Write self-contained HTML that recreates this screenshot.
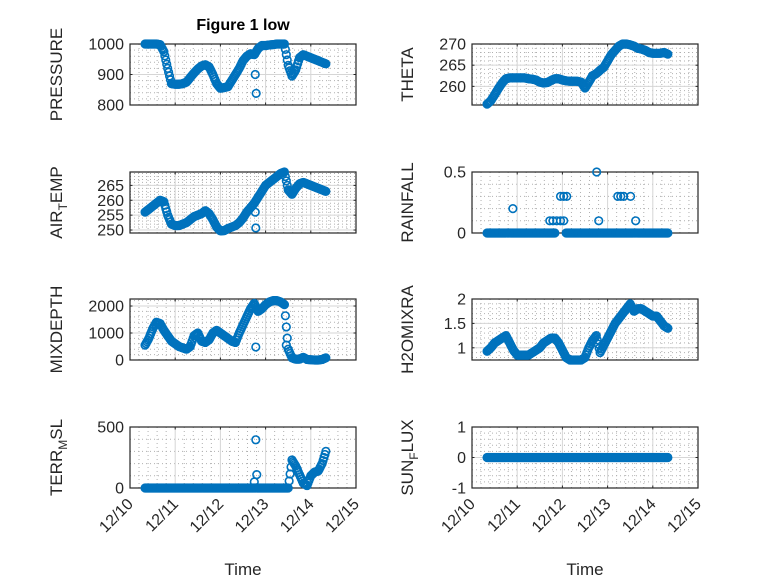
<!DOCTYPE html>
<html><head><meta charset="utf-8">
<style>
html,body{margin:0;padding:0;background:#fff;}
svg{display:block;font-family:"Liberation Sans",sans-serif;}
</style></head>
<body>
<svg id="fig" width="778" height="583" viewBox="0 0 778 583" xmlns="http://www.w3.org/2000/svg">
<rect width="778" height="583" fill="#fff"/>
<text x="243" y="30" text-anchor="middle" font-size="16" font-weight="bold" fill="#000">Figure 1 low</text>
</svg>
<script>
// time axis: hours since 12/10 00:00
const hours = [8,10,12,14,16,18,20,22,24,26,28,30,32,34,36,38,40,42,44,46,48,50,52,54,56,58,60,62,64,66,68,70,72,74,76,78,80,82,84,86,88,90,92,94,96,98,100,102,104];
const xTickLabels = ["12/10","12/11","12/12","12/13","12/14","12/15"];

const pressure = [1000,1000,1000,1000,998,975,920,870,868,868,870,875,890,905,918,928,932,925,900,870,855,857,860,880,900,920,945,960,968,965,985,995,995,997,998,1000,1000,1000,930,895,915,955,965,960,955,950,945,940,935];
const pressureExtraHours = [67,66.5];
const pressureExtra = [838,900];

const theta = [255.8,256.6,258,259.5,260.8,261.8,262,262,262,262,262,261.8,261.7,261.5,261,260.8,260.9,261.4,261.8,261.8,261.5,261.3,261.2,261.2,261.2,261,259.6,261,262.5,263,263.8,264.5,266,267.5,268.5,269.5,270,270,269.8,269.5,269,268.8,268.5,268,267.8,267.8,267.8,268,267.6];

const airTemp = [256,257,258,259,260,259.5,255,252,251.5,251.5,252,252.5,253.5,254.5,255,255.5,256.5,255.5,253.5,251,249.7,249.8,250.5,251,251.5,252.5,254,256,257.5,259,261,263,265,266,267,268,269,269.5,263.5,262,264,265.5,266,265.5,265,264.5,264,263.5,263];
const airTempExtraHours = [66.8,66.5];
const airTempExtra = [250.7,256];

const rainfall = [0,0,0,0,0,0,0,0,0,0,0,0,0,0,0,0,0,0,0,null,null,0,0,0,0,0,0,0,0,0,0,0,0,0,0,0,0,0,0,0,0,0,0,0,0,0,0,0,0];
const rainExtraHours = [21.7,41.3,43,45,47,48.7,47,48.7,50.3,66.2,67.3,77.4,79,80.5,84.2,86.9];
const rainExtra = [0.2,0.1,0.1,0.1,0.1,0.1,0.3,0.3,0.3,0.5,0.1,0.3,0.3,0.3,0.3,0.1];

const mixDepth = [550,800,1150,1400,1350,1100,900,700,600,500,450,400,500,900,1000,700,650,750,1000,1100,1000,900,800,700,650,1000,1300,1600,1900,2100,1800,1900,2050,2150,2200,2200,2150,2050,400,80,30,30,100,20,10,0,0,20,80];
const mixExtraHours = [66.8,83];
const mixExtra = [480,550];

const h2o = [0.93,1.0,1.1,1.15,1.2,1.25,1.1,0.95,0.85,0.85,0.85,0.85,0.9,0.95,1.0,1.1,1.15,1.2,1.2,1.1,0.95,0.8,0.75,0.75,0.75,0.75,0.8,1.0,1.15,1.25,0.9,1.05,1.2,1.35,1.5,1.6,1.7,1.8,1.9,1.75,1.8,1.8,1.75,1.7,1.65,1.65,1.55,1.45,1.4];

const terr = [0,0,0,0,0,0,0,0,0,0,0,0,0,0,0,0,0,0,0,0,0,0,0,0,0,0,0,0,0,0,0,0,0,0,0,0,0,0,0,230,180,110,40,20,100,130,140,200,300];
const terrExtraHours = [66.8,67.3,66];
const terrExtra = [395,110,50];

const sunFlux = [0,0,0,0,0,0,0,0,0,0,0,0,0,0,0,0,0,0,0,0,0,0,0,0,0,0,0,0,0,0,0,0,0,0,0,0,0,0,0,0,0,0,0,0,0,0,0,0,0];

const NS = "http://www.w3.org/2000/svg";
const svg = document.getElementById("fig");
function mk(tag, attrs, parent) {
  const e = document.createElementNS(NS, tag);
  for (const k in attrs) e.setAttribute(k, attrs[k]);
  (parent || svg).appendChild(e);
  return e;
}

const panels = [
  {name:"pressure", col:0, row:0, ylim:[800,1000], ticks:[800,900,1000], label:["PRESSURE"], data:pressure, exH:pressureExtraHours, ex:pressureExtra},
  {name:"theta", col:1, row:0, ylim:[255.6,270], ticks:[260,265,270], label:["THETA"], data:theta, exH:[], ex:[]},
  {name:"air-temp", col:0, row:1, ylim:[249,269.5], ticks:[250,255,260,265], label:["AIR","T","EMP"], data:airTemp, exH:airTempExtraHours, ex:airTempExtra},
  {name:"rainfall", col:1, row:1, ylim:[0,0.5], ticks:[0,0.5], label:["RAINFALL"], data:rainfall, exH:rainExtraHours, ex:rainExtra},
  {name:"mixdepth", col:0, row:2, ylim:[0,2260], ticks:[0,1000,2000], label:["MIXDEPTH"], data:mixDepth, exH:mixExtraHours, ex:mixExtra},
  {name:"h2omixra", col:1, row:2, ylim:[0.75,2], ticks:[1,1.5,2], label:["H2OMIXRA"], data:h2o, exH:[], ex:[]},
  {name:"terr-msl", col:0, row:3, ylim:[0,500], ticks:[0,500], label:["TERR","M","SL"], data:terr, exH:terrExtraHours, ex:terrExtra, xt:true},
  {name:"sun-flux", col:1, row:3, ylim:[-1,1], ticks:[-1,0,1], label:["SUN","F","LUX"], data:sunFlux, exH:[], ex:[], xt:true}
];
const colLeft = [130, 472], axW = 226, axH = 61;
const rowTop = [44, 172, 299, 427];
const labelX = [62, 413];

panels.forEach(p => {
  const L = colLeft[p.col], T = rowTop[p.row], B = T + axH, R = L + axW;
  const g = mk("g", {});
  
  
  const xS = h => L + h / 120 * axW;
  const yS = v => B - (v - p.ylim[0]) / (p.ylim[1] - p.ylim[0]) * axH;
  for (let d = 0; d < 5; d++) for (let m = 1; m < 5; m++) {
    const x = xS(d * 24 + m * 4.8);
    mk("line", {x1:x, x2:x, y1:T, y2:B, stroke:"#b0b0b0", "stroke-width":1, "stroke-dasharray":"1 3"}, g);
  }
  const tk = p.ticks, step = tk.length > 1 ? tk[1] - tk[0] : 1;
  for (let v = tk[0] - step; v <= p.ylim[1] + 1e-9; v += step / 5) {
    if (v <= p.ylim[0] || v >= p.ylim[1]) continue;
    const y = yS(v);
    mk("line", {x1:L, x2:R, y1:y, y2:y, stroke:"#b0b0b0", "stroke-width":1, "stroke-dasharray":"1 3"}, g);
  }
  for (let d = 1; d < 5; d++) { const x = xS(d * 24); mk("line", {x1:x, x2:x, y1:T, y2:B, stroke:"#d6d6d6", "stroke-width":1}, g); }
  tk.forEach(v => { const y = yS(v); if (y > T + 0.5 && y < B - 0.5) mk("line", {x1:L, x2:R, y1:y, y2:y, stroke:"#d6d6d6", "stroke-width":1}, g); });
  mk("rect", {x:L, y:T, width:axW, height:axH, fill:"none", stroke:"#262626", "stroke-width":1.2}, g);
  for (let d = 0; d <= 5; d++) { const x = xS(d * 24); mk("line", {x1:x, x2:x, y1:B, y2:B - 2.5, stroke:"#262626"}, g); mk("line", {x1:x, x2:x, y1:T, y2:T + 2.5, stroke:"#262626"}, g); }
  tk.forEach(v => {
    const y = yS(v);
    mk("line", {x1:L, x2:L + 2.5, y1:y, y2:y, stroke:"#262626"}, g);
    mk("line", {x1:R, x2:R - 2.5, y1:y, y2:y, stroke:"#262626"}, g);
    const t = mk("text", {x:L - 6, y:y + 5.5, "text-anchor":"end", "font-size":16, fill:"#262626"}, g);
    t.textContent = String(v);
    
    
  });
  if (p.xt) {
    xTickLabels.forEach((s, i) => {
      const x = xS(i * 24) + 4, y = B + 17;
      const t = mk("text", {x:x, y:y, "text-anchor":"end", "font-size":16, fill:"#262626", transform:`rotate(-45 ${x} ${y})`}, g);
      t.textContent = s;
      
      
    });
    const xl = mk("text", {x:L + axW / 2, y:575, "text-anchor":"middle", "font-size":17, fill:"#262626"}, g);
    xl.textContent = "Time";
    
    
  }
  const lx = labelX[p.col], ly = T + axH / 2;
  const yl = mk("text", {x:lx, y:ly, "text-anchor":"middle", "font-size":17, fill:"#262626", transform:`rotate(-90 ${lx} ${ly})`}, g);
  
  
  if (p.label.length === 1) yl.textContent = p.label[0];
  else {
    const a = mk("tspan", {}, yl); a.textContent = p.label[0];
    const b = mk("tspan", {"font-size":12, dy:5}, yl); b.textContent = p.label[1];
    const c = mk("tspan", {dy:-5}, yl); c.textContent = p.label[2];
  }
  const draw = (h, v) => {
    const c = mk("circle", {cx:xS(h), cy:yS(v), r:3.8, fill:"none", stroke:"#0072BD", "stroke-width":1.6}, g);
    
    
  };
  p.data.forEach((v, i) => { if (v !== null) draw(hours[i], v); });
  p.data.forEach((v, i) => {
    if (v !== null && i < hours.length - 1 && p.data[i + 1] !== null) {
      for (let k = 1; k < 4; k++) draw(hours[i] + k * 0.5, v + (p.data[i + 1] - v) * k / 4);
    }
  });
  p.ex.forEach((v, i) => draw(p.exH[i], v));
});
</script>
</body></html>
